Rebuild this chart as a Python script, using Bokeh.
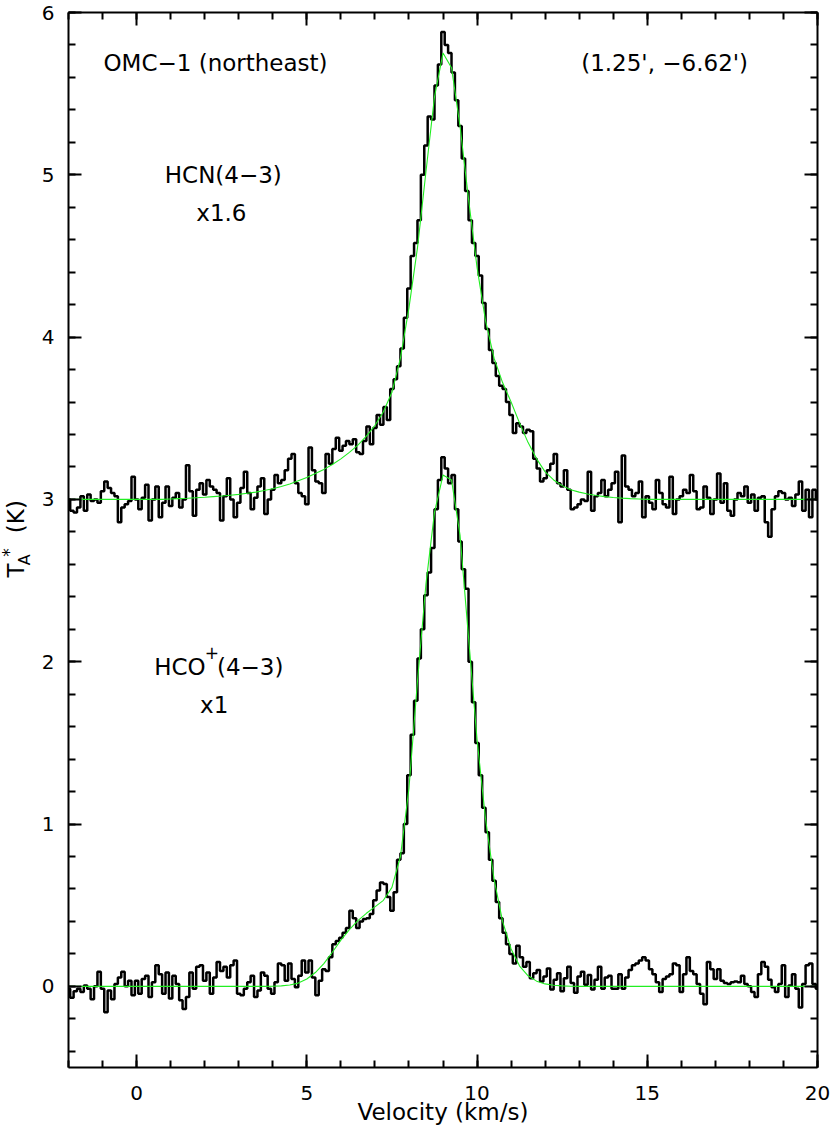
import math
from bokeh.plotting import figure
from bokeh.layouts import row
from bokeh.models import LinearAxis, Range1d, Label, FixedTicker, CustomJSTickFormatter
from bokeh.core.properties import value
from bokeh.embed import file_html
from bokeh.resources import INLINE

# ---------------- data ----------------
V_START = -2.0      # first channel velocity (km/s)
V_STEP = 0.1        # channel width (km/s)

hcn_spec = [
    3.00, 2.93, 2.92, 2.95, 3.02, 2.93, 3.03, 2.99, 3.00, 2.98,
    3.05, 3.11, 3.07, 3.04, 3.02, 2.86, 2.95, 2.97, 2.99, 3.14,
    3.00, 2.94, 3.01, 3.09, 2.87, 3.00, 3.08, 2.89, 2.98, 3.08,
    2.96, 3.01, 3.04, 2.95, 3.00, 3.21, 3.05, 2.90, 3.06, 3.10,
    3.03, 3.12, 3.08, 3.06, 3.04, 2.87, 3.02, 3.13, 3.00, 2.89,
    2.98, 3.07, 3.17, 3.04, 2.94, 3.01, 3.08, 3.13, 2.91, 3.00,
    3.06, 3.15, 3.10, 3.12, 3.18, 3.25, 3.28, 3.10, 3.04, 3.02,
    2.97, 3.32, 3.18, 3.11, 3.10, 3.04, 3.28, 3.22, 3.31, 3.38,
    3.30, 3.33, 3.36, 3.34, 3.37, 3.29, 3.28, 3.36, 3.45, 3.34,
    3.44, 3.52, 3.46, 3.57, 3.49, 3.68, 3.74, 3.82, 3.93, 4.12,
    4.30, 4.50, 4.58, 4.72, 5.00, 5.18, 5.36, 5.34, 5.55, 5.68,
    5.88, 5.80, 5.75, 5.63, 5.46, 5.30, 5.10, 4.90, 4.72, 4.58,
    4.50, 4.38, 4.21, 4.05, 3.92, 3.84, 3.76, 3.70, 3.68, 3.60,
    3.52, 3.41, 3.47, 3.45, 3.41, 3.43, 3.42, 3.25, 3.19, 3.11,
    3.13, 3.18, 3.22, 3.28, 3.10, 3.08, 3.18, 3.06, 2.94, 2.95,
    2.97, 3.00, 2.99, 3.17, 2.93, 3.02, 3.04, 3.12, 3.02, 3.06,
    3.10, 3.17, 2.86, 3.27, 3.08, 3.06, 3.02, 3.04, 3.11, 2.89,
    3.02, 2.98, 2.94, 3.12, 3.04, 2.97, 2.95, 3.14, 2.91, 3.00,
    3.02, 3.06, 3.04, 3.15, 3.05, 2.94, 2.95, 3.08, 3.01, 2.91,
    3.00, 3.16, 2.98, 3.10, 2.93, 2.90, 3.00, 3.04, 3.02, 3.08,
    2.98, 3.03, 2.93, 3.01, 3.02, 2.86, 2.77, 2.94, 3.02, 3.05,
    3.04, 3.00, 3.01, 2.96, 3.03, 3.11, 2.93, 3.06, 2.89, 3.06,
    3.00,
]

hcop_spec = [
    -0.015, -0.07, -0.03, -0.015, -0.035, 0.005, -0.015, -0.08, 0.00, 0.09,
    -0.015, -0.16, -0.025, -0.08, 0.015, 0.055, 0.09, 0.00, 0.035, -0.055,
    0.035, -0.045, 0.045, 0.065, -0.065, 0.025, 0.13, 0.075, -0.045, 0.085,
    -0.075, 0.065, 0.015, -0.085, -0.14, -0.065, 0.085, -0.015, 0.12, 0.13,
    0.035, 0.085, -0.045, 0.055, 0.15, 0.095, 0.12, 0.055, 0.13, 0.16,
    -0.045, -0.055, -0.015, 0.025, 0.065, -0.065, -0.025, 0.085, 0.065, -0.015,
    -0.045, 0.025, 0.14, 0.13, 0.035, 0.14, 0.045, -0.005, 0.065, 0.16,
    0.085, 0.16, 0.055, -0.055, 0.035, 0.105, 0.095, 0.18, 0.26, 0.28,
    0.30, 0.33, 0.36, 0.465, 0.42, 0.36, 0.40, 0.415, 0.42, 0.445,
    0.53, 0.59, 0.64, 0.63, 0.55, 0.465, 0.58, 0.78, 0.82, 1.00,
    1.30, 1.55, 1.76, 2.02, 2.20, 2.41, 2.55, 2.70, 2.94, 3.12,
    3.26, 3.19, 3.10, 3.15, 2.94, 2.74, 2.57, 2.45, 2.00, 1.75,
    1.50, 1.30, 1.10, 0.95, 0.78, 0.65, 0.52, 0.42, 0.33, 0.26,
    0.20, 0.14, 0.25, 0.18, 0.12, 0.15, 0.05, 0.08, 0.10, 0.03,
    0.06, 0.11, -0.02, 0.04, 0.08, -0.03, 0.05, 0.12, 0.02, -0.04,
    0.06, 0.09, 0.01, 0.07, -0.02, 0.04, 0.12, -0.015, 0.055, 0.065,
    -0.015, -0.015, 0.075, -0.015, 0.055, 0.10, 0.13, 0.14, 0.16, 0.18,
    0.16, 0.105, 0.075, 0.025, -0.035, 0.045, 0.06, 0.075, 0.14, 0.13,
    -0.035, 0.075, 0.18, 0.095, 0.075, 0.015, -0.045, -0.11, 0.15, 0.105,
    0.045, 0.105, 0.035, 0.02, 0.015, 0.025, 0.03, 0.025, 0.065, 0.015,
    0.00, -0.035, -0.065, 0.075, 0.15, 0.12, 0.04, -0.005, -0.035, 0.015,
    0.13, -0.065, 0.005, 0.075, -0.015, -0.13, 0.015, 0.13, 0.14, 0.015,
    -0.015,
]

FIT_START = -2.0
FIT_STEP = 0.25

hcn_fit = [
    3.0, 3.0, 3.0, 3.0, 3.0, 3.0, 3.0, 3.0, 3.0, 3.0, 3.0, 3.0,
    3.003, 3.005, 3.007, 3.010,
    3.013, 3.017, 3.021, 3.026,
    3.031, 3.038, 3.045, 3.055,
    3.066, 3.080, 3.095, 3.115,
    3.135, 3.160, 3.185, 3.215,
    3.250, 3.290, 3.335, 3.390,
    3.455, 3.540, 3.660, 3.870,
    4.180, 4.550, 5.020, 5.480,
    5.750, 5.660, 5.300, 4.850,
    4.430, 4.100, 3.870, 3.720,
    3.600, 3.470, 3.350, 3.250,
    3.170, 3.120, 3.085, 3.060,
    3.045, 3.033, 3.024, 3.017,
    3.012, 3.008, 3.005, 3.003,
    3.0, 3.0, 3.0, 3.0, 3.0, 3.0, 3.0, 3.0, 3.0, 3.0, 3.0,
    3.0, 3.0, 3.0, 3.0, 3.0, 3.0, 3.0, 3.0, 3.0, 3.0,
]

hcop_fit = [
    0.0, 0.0, 0.0, 0.0, 0.0, 0.0, 0.0, 0.0, 0.0, 0.0, 0.0, 0.0,
    0.0, 0.0, 0.0, 0.0, 0.0, 0.0, 0.0, 0.0, 0.0, 0.0, 0.0, 0.0,
    0.001, 0.003, 0.008, 0.020,
    0.045, 0.085, 0.140, 0.210,
    0.285, 0.350, 0.405, 0.450,
    0.490, 0.530, 0.610, 0.800,
    1.220, 1.880, 2.480, 2.920,
    3.150, 3.120, 2.780, 2.150,
    1.520, 1.030, 0.660, 0.400,
    0.230, 0.125, 0.065, 0.032,
    0.015, 0.007, 0.003, 0.001,
    0.0, 0.0, 0.0, 0.0, 0.0, 0.0, 0.0, 0.0, 0.0, 0.0,
    0.0, 0.0, 0.0, 0.0, 0.0, 0.0, 0.0, 0.0, 0.0, 0.0,
    0.0, 0.0, 0.0, 0.0, 0.0, 0.0, 0.0, 0.0, 0.0,
]

x_major = [0, 5, 10, 15, 20]
x_minor = list(range(-2, 21))
y_major = [0, 1, 2, 3, 4, 5, 6]
y_minor = [round(-0.4 + 0.2 * k, 1) for k in range(33)]

velocity = [round(V_START + V_STEP * i, 2) for i in range(len(hcn_spec))]
fit_vel = [round(FIT_START + FIT_STEP * i, 2) for i in range(len(hcn_fit))]

FONT = "DejaVu Sans"
TOTAL_H = 1132
LEFT_W = 38

# ---------------- main figure ----------------
yr = Range1d(-0.5, 6)
p = figure(width=830 - LEFT_W, height=TOTAL_H,
           x_range=Range1d(-2, 20), y_range=yr,
           output_backend="svg", toolbar_location=None,
           min_border_left=29, min_border_right=13,
           min_border_top=12, min_border_bottom=65)
p.outline_line_color = None
p.xgrid.visible = False
p.ygrid.visible = False
p.background_fill_color = "white"
p.border_fill_color = "white"


def style_axis(ax, ticks, minor, show_labels, standoff):
    ax.ticker = FixedTicker(ticks=ticks, minor_ticks=minor)
    ax.major_tick_in = 13
    ax.major_tick_out = 0
    ax.minor_tick_in = 7
    ax.minor_tick_out = 0
    ax.axis_line_width = 2
    ax.major_tick_line_width = 2
    ax.minor_tick_line_width = 2
    ax.axis_line_color = "black"
    ax.major_tick_line_color = "black"
    ax.minor_tick_line_color = "black"
    if show_labels:
        ax.major_label_text_font = FONT
        ax.major_label_text_font_size = "20px"
        ax.major_label_text_color = "black"
        ax.major_label_standoff = standoff
    else:
        ax.formatter = CustomJSTickFormatter(code="return ''")
        ax.major_label_standoff = 0


style_axis(p.xaxis[0], x_major, x_minor, True, 18)
style_axis(p.yaxis[0], y_major, y_minor, True, 14)
p.xaxis[0].axis_label = "Velocity (km/s)"
p.xaxis[0].axis_label_text_font = FONT
p.xaxis[0].axis_label_text_font_size = "23px"
p.xaxis[0].axis_label_text_font_style = "normal"
p.xaxis[0].axis_label_text_color = "black"
p.xaxis[0].axis_label_standoff = -4

top_ax = LinearAxis()
right_ax = LinearAxis()
style_axis(top_ax, x_major, x_minor, False, 0)
style_axis(right_ax, y_major, y_minor, False, 0)
p.add_layout(top_ax, "above")
p.add_layout(right_ax, "right")

# spectra
p.step(x=velocity, y=hcn_spec, mode="center", line_color="black", line_width=2.5)
p.step(x=velocity, y=hcop_spec, mode="center", line_color="black", line_width=2.5)
# fits
p.line(x=fit_vel, y=hcn_fit, line_color="#22ee22", line_width=1.1)
p.line(x=fit_vel, y=hcop_fit, line_color="#22ee22", line_width=1.1)


def lab(x, y, text, size="23px", align="center"):
    p.add_layout(Label(x=x, y=y, text=text, text_font=FONT, text_font_size=size,
                       text_color="black", text_align=align, text_baseline="middle"))


lab(-0.973, 5.687, "OMC\u22121 (northeast)", align="left")
lab(15.51, 5.687, "(1.25', \u22126.62')")
lab(2.547, 4.999, "HCN(4\u22123)")
lab(2.49, 4.765, "x1.6")
lab(2.03, 1.970, "HCO", align="right")
lab(2.21, 2.055, "+", size="17px")
lab(2.36, 1.970, "(4\u22123)", align="left")
lab(2.28, 1.736, "x1")

# ---------------- y-axis title strip (shares the main y scale) ----------------
q = figure(width=LEFT_W, height=TOTAL_H,
           x_range=Range1d(0, LEFT_W), y_range=yr,
           output_backend="svg", toolbar_location=None,
           x_axis_location=None, y_axis_location=None, min_border=0)
q.outline_line_color = None
q.grid.visible = False
q.background_fill_color = "white"
q.border_fill_color = "white"

rot = math.pi / 2


def ytxt(x, y, text, size):
    q.text(x=[x], y=[y], text=[text], angle=rot, text_font=value(FONT),
           text_font_size=size, text_align="center", text_baseline="middle",
           text_color="black")


ytxt(15, 2.562, "T", "23px")
ytxt(24, 2.628, "A", "16px")
ytxt(8, 2.673, "*", "17px")
ytxt(15, 2.894, "(K)", "23px")

layout = row(q, p, spacing=0)
open("out.html", "w").write(file_html(layout, INLINE))
